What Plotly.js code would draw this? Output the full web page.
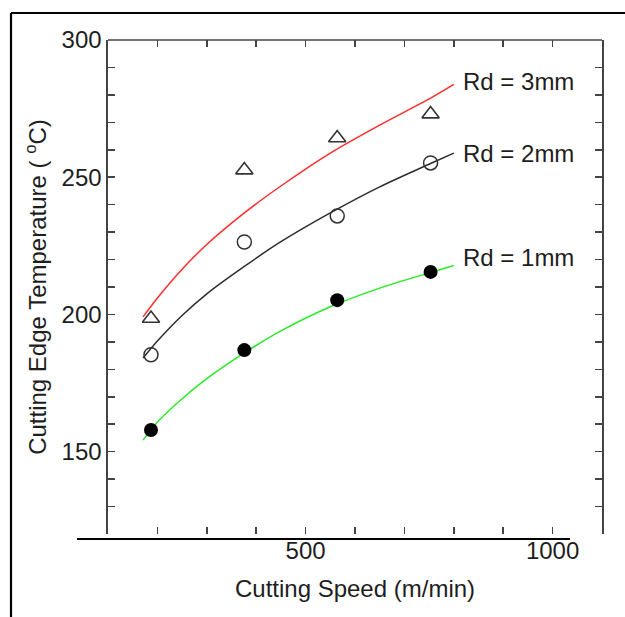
<!DOCTYPE html>
<html>
<head>
<meta charset="utf-8">
<script src="https://cdn.plot.ly/plotly-3.0.1.min.js"></script>
<style>
  html, body { margin: 0; padding: 0; background: #ffffff; }
  #chart { width: 625px; height: 617px; }
</style>
</head>
<body>
<div id="chart"></div>
<script>
// ---- measured points (cutting speed m/min, temperature degC) ----
const speedRd3 = [187, 376, 564, 753];
const tempRd3  = [198.5, 252.6, 264.3, 273.0];
const speedRd2 = [187, 376, 564, 753];
const tempRd2  = [185.3, 226.4, 235.9, 255.2];
const speedRd1 = [187, 376, 564, 753];
const tempRd1  = [157.9, 187.0, 205.2, 215.5];

// ---- fitted curves ----
const fitRd3X = [171, 200, 250, 300, 376, 450, 550, 650, 753, 800];
const fitRd3Y = [199.1, 206.0, 216.5, 225.5, 237.0, 246.8, 258.8, 269.0, 278.8, 283.8];
const fitRd2X = [171, 200, 250, 300, 376, 450, 550, 650, 753, 800];
const fitRd2Y = [184.1, 190.3, 199.6, 207.5, 217.5, 226.5, 237.0, 246.5, 255.0, 258.8];
const fitRd1X = [171, 200, 250, 300, 376, 450, 550, 650, 753, 800];
const fitRd1Y = [154.2, 160.8, 169.3, 176.6, 186.0, 194.0, 202.8, 209.6, 215.3, 217.8];

// ---- labels ----
const curveLabels = ['Rd = 3mm', 'Rd = 2mm', 'Rd = 1mm'];
const labelY = [284.7, 258.8, 220.6];
const xTickVals = [100, 200, 300, 400, 500, 600, 700, 800, 900, 1000, 1100];
const xTickText = ['', '', '', '', '500', '', '', '', '', '1000', ''];
const yTickVals = [120, 130, 140, 150, 160, 170, 180, 190, 200, 210, 220, 230, 240, 250, 260, 270, 280, 290, 300];
const yTickText = ['', '', '', '150', '', '', '', '', '200', '', '', '', '', '250', '', '', '', '', '300'];

const FONT = 'Liberation Sans, Arial, sans-serif';
const AX = '#444444';

const traces = [
  { x: fitRd3X, y: fitRd3Y, mode: 'lines', line: { color: 'rgb(255,45,45)', width: 1.5, shape: 'spline', smoothing: 0.8 }, hoverinfo: 'skip' },
  { x: fitRd2X, y: fitRd2Y, mode: 'lines', line: { color: 'rgb(45,45,45)', width: 1.5, shape: 'spline', smoothing: 0.8 }, hoverinfo: 'skip' },
  { x: fitRd1X, y: fitRd1Y, mode: 'lines', line: { color: 'rgb(40,235,40)', width: 1.5, shape: 'spline', smoothing: 0.8 }, hoverinfo: 'skip' },
  { x: speedRd3, y: tempRd3, mode: 'markers',
    marker: { symbol: 'triangle-up-open', size: 15, color: '#333333', line: { width: 1.6, color: '#333333' } } },
  { x: speedRd2, y: tempRd2, mode: 'markers',
    marker: { symbol: 'circle-open', size: 14, color: '#333333', line: { width: 1.5, color: '#333333' } } },
  { x: speedRd1, y: tempRd1, mode: 'markers',
    marker: { symbol: 'circle', size: 14, color: '#000000', line: { width: 0 } } }
];

const annotations = curveLabels.map((t, i) => ({
  x: 815, y: labelY[i], xref: 'x', yref: 'y', text: t, showarrow: false,
  xanchor: 'left', yanchor: 'middle', font: { family: FONT, size: 24, color: '#1e1e1e' }
}));

const layout = {
  width: 625, height: 617,
  margin: { l: 108, r: 23, t: 40, b: 83 },
  paper_bgcolor: '#ffffff', plot_bgcolor: '#ffffff',
  showlegend: false,
  font: { family: FONT, size: 24, color: '#1e1e1e' },
  xaxis: {
    range: [100, 1100], tickmode: 'array', tickvals: xTickVals, ticktext: xTickText,
    ticks: 'inside', ticklen: 7, tickwidth: 1.5, tickcolor: AX, mirror: 'ticks',
    showline: false, showgrid: false, zeroline: false,
    tickfont: { family: FONT, size: 24, color: '#1e1e1e' },
    title: { text: '\u00a0\u00a0Cutting Speed (m/min)', standoff: 17, font: { family: FONT, size: 24, color: '#1e1e1e' } }
  },
  yaxis: {
    range: [120, 300], tickmode: 'array', tickvals: yTickVals, ticktext: yTickText,
    ticks: 'inside', ticklen: 7, tickwidth: 1.5, tickcolor: AX, mirror: 'ticks',
    showline: true, linecolor: AX, linewidth: 1.6, showgrid: false, zeroline: false,
    tickfont: { family: FONT, size: 24, color: '#1e1e1e' },
    title: { text: 'Cutting Edge Temperature ( <sup>o</sup>C)', standoff: 8, font: { family: FONT, size: 24, color: '#1e1e1e' } }
  },
  annotations: annotations,
  shapes: [
    // top edge of the plot box
    { type: 'line', xref: 'paper', yref: 'paper', x0: 0, x1: 1, y0: 1, y1: 1, line: { color: AX, width: 1.6 } },
    // separate black baseline under the plot
    { type: 'line', xref: 'paper', yref: 'paper', x0: (77 - 108) / 494, x1: (570 - 108) / 494, y0: -5 / 494, y1: -5 / 494, line: { color: '#000000', width: 2 } },
    // outer figure frame (left and top)
    { type: 'line', xref: 'paper', yref: 'paper', x0: (11 - 108) / 494, x1: (11 - 108) / 494, y0: (534 - 625) / 494, y1: (534 - 13) / 494, line: { color: '#000000', width: 2.2 } },
    { type: 'line', xref: 'paper', yref: 'paper', x0: (11 - 108) / 494, x1: (635 - 108) / 494, y0: (534 - 13) / 494, y1: (534 - 13) / 494, line: { color: '#000000', width: 2.2 } }
  ]
};

Plotly.newPlot('chart', traces, layout, { staticPlot: true, displayModeBar: false });
</script>
</body>
</html>
